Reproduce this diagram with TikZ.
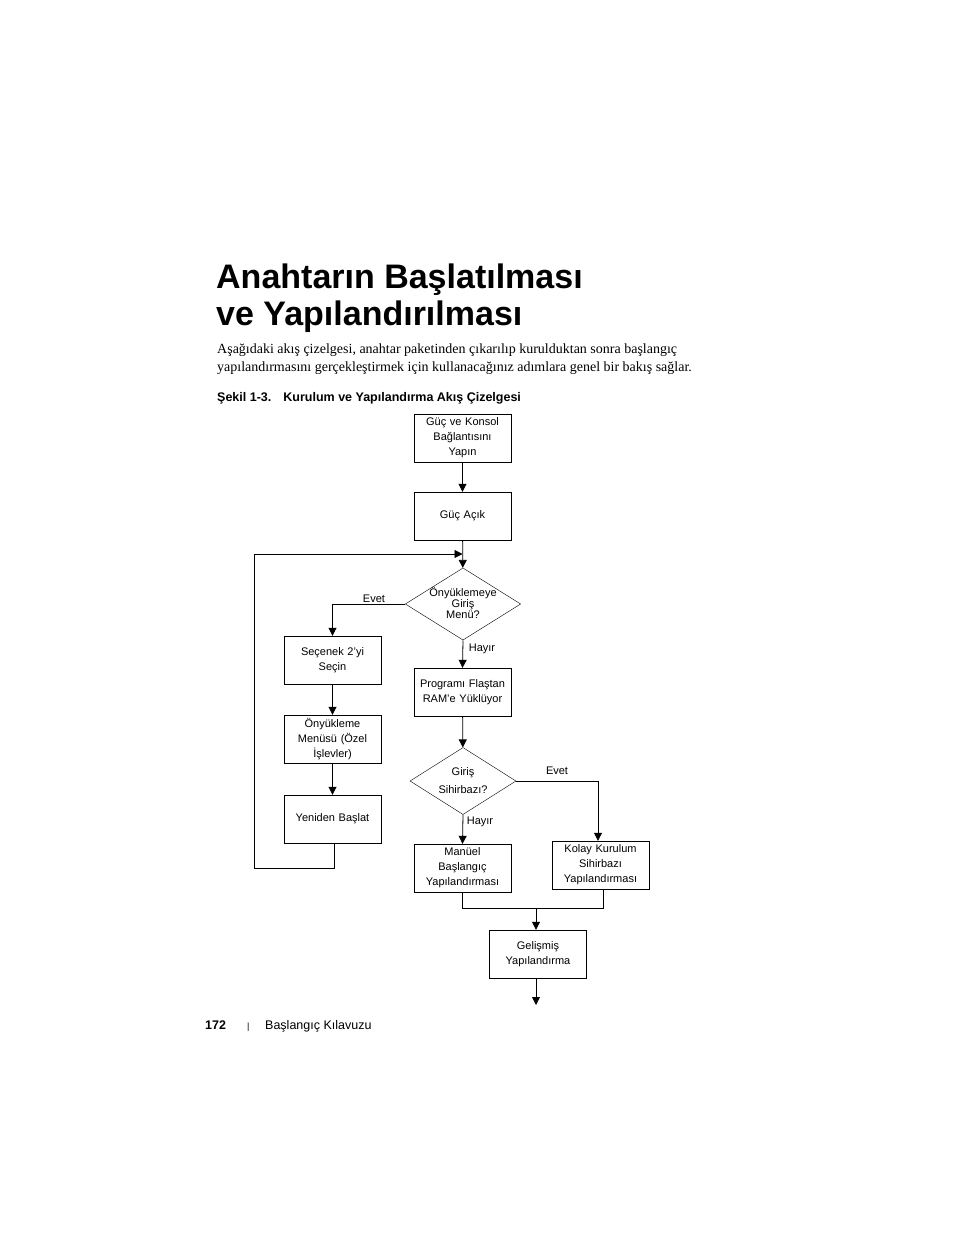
\documentclass[tikz,border=0pt]{standalone}
\usepackage{fontspec}
\setmainfont{Liberation Serif}
\setsansfont{Liberation Sans}
\usetikzlibrary{shapes.geometric,arrows.meta}
\tikzset{
  flowbox/.style={shape=rectangle,draw=black,minimum width=97pt,minimum height=48pt,text width=95pt,align=center,font=\sffamily\fontsize{11}{15}\selectfont,inner sep=1pt},
  decision/.style={shape=diamond,draw=black,minimum width=106pt,minimum height=67pt,aspect=1.6,inner sep=0pt,align=center,font=\sffamily\fontsize{11}{11}\selectfont},
  lbl/.style={font=\sffamily\fontsize{11}{13}\selectfont,inner sep=0pt},
  flow/.style={line width=0.8pt,-{Triangle[length=8pt,width=8pt]}},
  wire/.style={line width=0.8pt}
}
\begin{document}
\begin{tikzpicture}[x=1pt,y=-1pt]
    \useasboundingbox (0,0) rectangle (954,1235);

    % page text
    \node[anchor=base west,inner sep=0pt,font=\sffamily\bfseries\fontsize{34}{38}\selectfont] (title1) at (216,288) {Anahtarın Başlatılması};
    \node[anchor=base west,inner sep=0pt,font=\sffamily\bfseries\fontsize{34}{38}\selectfont] (title2) at (216,325) {ve Yapılandırılması};
    \node[anchor=base west,inner sep=0pt,font=\fontsize{14}{18}\selectfont] (body1) at (217,353) {Aşağıdaki akış çizelgesi, anahtar paketinden çıkarılıp kurulduktan sonra başlangıç};
    \node[anchor=base west,inner sep=0pt,font=\fontsize{14}{18}\selectfont] (body2) at (217,371) {yapılandırmasını gerçekleştirmek için kullanacağınız adımlara genel bir bakış sağlar.};
    \node[anchor=base west,inner sep=0pt,font=\sffamily\bfseries\fontsize{12.5}{14}\selectfont] (caption) at (217,401) {Şekil 1-3.\hspace{12pt}Kurulum ve Yapılandırma Akış Çizelgesi};

    % boxes
    \node[flowbox] (power) at (462.5,438) {Güç ve Konsol\\Bağlantısını\\Yapın};
    \node[flowbox] (on) at (462.5,516) {Güç Açık};
    \node[decision] (boot) at (463,604) {\\[-3pt]Önyüklemeye\\Giriş\\Menü?};
    \node[flowbox] (opt) at (332.5,660) {Seçenek 2’yi\\Seçin};
    \node[flowbox] (menu) at (332.5,739) {Önyükleme\\Menüsü (Özel\\İşlevler)};
    \node[flowbox] (restart) at (332.5,819) {Yeniden Başlat};
    \node[flowbox] (load) at (462.5,692) {Programı Flaştan\\RAM’e Yüklüyor};
    \node[decision,font=\sffamily\fontsize{11}{18}\selectfont] (wiz) at (463,781) {Giriş\\Sihirbazı?};
    \node[flowbox] (manual) at (462.5,868) {Manüel\\Başlangıç\\Yapılandırması};
    \node[flowbox] (easy) at (600.5,865) {Kolay Kurulum\\Sihirbazı\\Yapılandırması};
    \node[flowbox] (adv) at (538,954) {Gelişmiş\\Yapılandırma};
    \coordinate (join) at (462.5,554);
    \coordinate (merge) at (536,908);
    \coordinate (out) at (536,1005);

    % connectors
    \draw[flow] (power) -- (on);
    \draw[flow] (on) -- (boot);
    \draw[flow] (boot.west) -| (opt.north);
    \draw[flow] (opt) -- (menu);
    \draw[flow] (menu) -- (restart);
    \draw[flow] ([xshift=2pt]restart.south) |- (254,868) |- (join);
    \draw[flow] (boot.south) -- (load.north);
    \draw[flow] (load) -- (wiz);
    \draw[flow] (wiz.south) -- (manual.north);
    \draw[flow] (wiz.east) -| (easy.north -| 598,0);
    \draw[wire] (manual.south) |- (merge) -| ([xshift=3pt]easy.south);
    \draw[flow] (merge) -- (adv.north -| merge);
    \draw[flow] (adv.south -| out) -- (out);

    % labels
    \node[lbl] (yes1) at (374,599) {Evet};
    \node[lbl] (no1) at (482,649) {Hayır};
    \node[lbl] (yes2) at (557,771) {Evet};
    \node[lbl] (no2) at (480,822) {Hayır};

    % footer
    \node[anchor=base west,inner sep=0pt,font=\sffamily\bfseries\fontsize{12.5}{14}\selectfont] (page) at (205,1029) {172};
    \node[anchor=base west,inner sep=0pt,font=\sffamily\fontsize{9}{10}\selectfont] (bar) at (247,1029) {|};
    \node[anchor=base west,inner sep=0pt,font=\sffamily\fontsize{12.5}{14}\selectfont] (book) at (265,1029) {Başlangıç Kılavuzu};
\end{tikzpicture}
\end{document}
